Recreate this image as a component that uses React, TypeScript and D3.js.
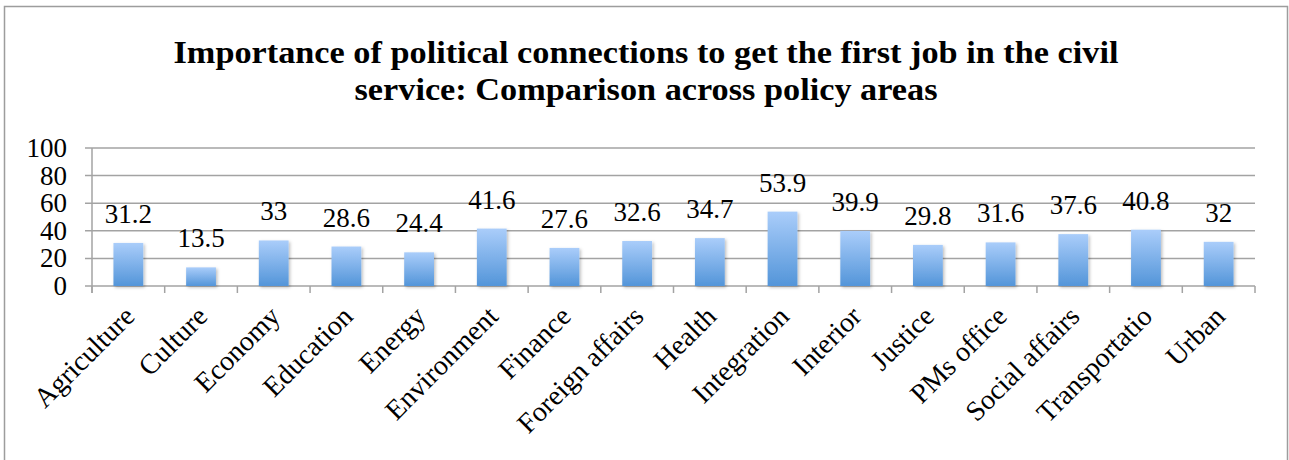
import * as d3 from 'd3';

const CATEGORIES = [
  'Agriculture', 'Culture', 'Economy', 'Education', 'Energy', 'Environment',
  'Finance', 'Foreign affairs', 'Health', 'Integration', 'Interior', 'Justice',
  'PMs office', 'Social affairs', 'Transportatio', 'Urban',
];
const VALUES = [31.2, 13.5, 33, 28.6, 24.4, 41.6, 27.6, 32.6, 34.7, 53.9, 39.9, 29.8, 31.6, 37.6, 40.8, 32];
const Y_TICKS = [0, 20, 40, 60, 80, 100];
const TITLE_LINES = [
  'Importance of political connections to get the first job in the civil',
  'service: Comparison across policy areas',
];

const W = 1289;
const H = 460;
const PLOT = { left: 92, right: 1255, top: 148, bottom: 286 };
const FONT = "'Liberation Serif', serif";
const GRID = '#a3a3a3';
// approx widths of the two title lines (Cambria is wider than Times)
const TITLE_WIDTHS = [945, 583];

export default function App() {
  const x = d3.scaleBand<string>().domain(CATEGORIES).range([PLOT.left, PLOT.right]).paddingInner(0.59).paddingOuter(0.295);
  const band = d3.scaleBand<string>().domain(CATEGORIES).range([PLOT.left, PLOT.right]);
  const y = d3.scaleLinear().domain([0, 100]).range([PLOT.bottom, PLOT.top]);

  const boundaries = d3.range(CATEGORIES.length + 1).map((i) => PLOT.left + i * band.step());

  return (
    <svg width={W} height={H} style={{ position: 'absolute', left: 0, top: 0 }}>
      <defs>
        <linearGradient id="barGrad" x1="0" y1="0" x2="0" y2="1">
          <stop offset="0%" stopColor="#aacdfa" />
          <stop offset="100%" stopColor="#5395d9" />
        </linearGradient>
        <filter id="shadow" x="-20%" y="-20%" width="150%" height="150%">
          <feDropShadow dx="1.5" dy="1.5" stdDeviation="1.5" floodColor="#000" floodOpacity="0.25" />
        </filter>
      </defs>
      <rect x={0} y={0} width={W} height={H} fill="#fff" />
      {/* chart frame */}
      <path d={`M4.5,${H} V6.5 H1287.5 V${H}`} fill="none" stroke="#9d9d9d" strokeWidth={1.5} />

      {/* title */}
      <g style={{ fontFamily: FONT }} fontWeight="bold" fontSize={31} textAnchor="middle" fill="#000">
        {TITLE_LINES.map((t, i) => (
          <text key={i} x={646} y={63 + i * 37} textLength={TITLE_WIDTHS[i]} lengthAdjust="spacingAndGlyphs">{t}</text>
        ))}
      </g>

      {/* gridlines + y ticks */}
      {Y_TICKS.map((t) => (
        <g key={t}>
          <line x1={PLOT.left - 7} x2={PLOT.right} y1={y(t)} y2={y(t)} stroke={GRID} strokeWidth={1.5} />
          <text x={67} y={y(t) + 9} textAnchor="end" style={{ fontFamily: FONT }} fontSize={27}>{t}</text>
        </g>
      ))}
      <line x1={PLOT.left} x2={PLOT.left} y1={PLOT.top} y2={PLOT.bottom + 7} stroke={GRID} strokeWidth={1.5} />
      {boundaries.map((bx, i) => (
        <line key={i} x1={bx} x2={bx} y1={PLOT.bottom} y2={PLOT.bottom + 7} stroke={GRID} strokeWidth={1.5} />
      ))}

      {/* bars */}
      {CATEGORIES.map((c, i) => (
        <rect key={c} x={x(c)} y={y(VALUES[i])} width={x.bandwidth()} height={PLOT.bottom - y(VALUES[i])}
          fill="url(#barGrad)" filter="url(#shadow)" />
      ))}

      {/* value labels */}
      <g style={{ fontFamily: FONT }} fontSize={27} textAnchor="middle">
        {CATEGORIES.map((c, i) => (
          <text key={c} x={(x(c) ?? 0) + x.bandwidth() / 2} y={y(VALUES[i]) - 20}>{String(VALUES[i])}</text>
        ))}
      </g>

      {/* category labels */}
      <g style={{ fontFamily: FONT }} fontSize={28} textAnchor="end">
        {CATEGORIES.map((c) => {
          const cx = (band(c) ?? 0) + band.bandwidth() / 2 + 8;
          const cy = 318;
          return (
            <text key={c} x={cx} y={cy} transform={`rotate(-45 ${cx} ${cy})`}>{c}</text>
          );
        })}
      </g>
    </svg>
  );
}
